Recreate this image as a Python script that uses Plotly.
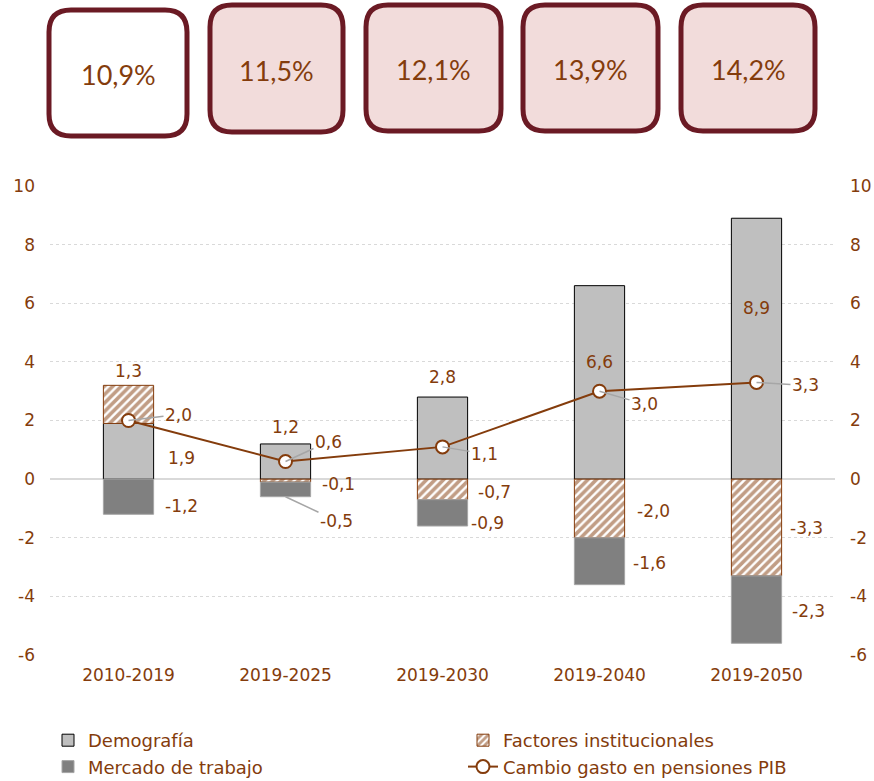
import plotly.graph_objects as go

# ---------------- data ----------------
categories = ["2010-2019", "2019-2025", "2019-2030", "2019-2040", "2019-2050"]
demografia = [1.9, 1.2, 2.8, 6.6, 8.9]
factores = [1.3, -0.1, -0.7, -2.0, -3.3]
mercado = [-1.2, -0.5, -0.9, -1.6, -2.3]
cambio_pib = [2.0, 0.6, 1.1, 3.0, 3.3]
gasto_total = [10.9, 11.5, 12.1, 13.9, 14.2]
y_ticks = [-6, -4, -2, 0, 2, 4, 6, 8, 10]
y_ticktext = ["-6", "-4", "-2", "0", "2", "4", "6", "8", "10"]

# ---------------- style ----------------
BROWN = "#843C0C"
MAROON = "#6B1A24"
GRID = "#D9D9D9"
FONT = "DejaVu Sans"

W, H = 874, 781
L, R, T, B = 50, 39, 186, 126
PW = W - L - R
PH = H - T - B


def fmt(v):
    return f"{v:.1f}".replace(".", ",")


def px2paper(px, py):
    return (px - L) / PW, (H - B - py) / PH


fig = go.Figure()

fig.add_trace(go.Bar(
    name="Demografía", x=categories, y=demografia,
    marker=dict(color="#BFBFBF", line=dict(color="#000000", width=1)),
    width=0.32, hoverinfo="skip"))
fig.add_trace(go.Bar(
    name="Factores institucionales", x=categories, y=factores,
    marker=dict(color="white", line=dict(color=BROWN, width=1),
                pattern=dict(shape="/", fgcolor=BROWN, bgcolor="white",
                             size=6, solidity=0.6)),
    width=0.32, hoverinfo="skip"))
fig.add_trace(go.Bar(
    name="Mercado de trabajo", x=categories, y=mercado,
    marker=dict(color="#808080", line=dict(color="#A6A6A6", width=1)),
    width=0.32, hoverinfo="skip"))
fig.add_trace(go.Scatter(
    name="Cambio gasto en pensiones PIB", x=categories, y=cambio_pib,
    mode="lines+markers",
    line=dict(color=BROWN, width=2),
    marker=dict(symbol="circle", size=13, color="white",
                line=dict(color=BROWN, width=2)),
    hoverinfo="skip"))
# invisible trace so the right axis is drawn
fig.add_trace(go.Scatter(x=categories, y=cambio_pib, yaxis="y2", mode="markers",
                         marker=dict(opacity=0), showlegend=False, hoverinfo="skip"))

annotations = []
# demografia labels (offsets from bar top, pixels)
dem_shift = [(53, -35), (0, 17), (0, 20), (0, -76), (0, -90)]
for c, v, (dx, dy) in zip(categories, demografia, dem_shift):
    annotations.append(dict(x=c, y=v, text=fmt(v), showarrow=False,
                            xshift=dx, yshift=dy))

# factores labels (offset from segment middle)
fac_shift = [(0, 33), (53, -3), (52, -3), (54, -3), (50, -1)]
for i, (c, v) in enumerate(zip(categories, factores)):
    base = demografia[i] if v > 0 else 0
    mid = base + v / 2
    dx, dy = fac_shift[i]
    annotations.append(dict(x=c, y=mid, text=fmt(v), showarrow=False,
                            xshift=dx, yshift=dy))

# mercado labels
mer_shift = [(53, -9), None, (45, -10), (50, -2), (52, -1)]
for i, (c, v) in enumerate(zip(categories, mercado)):
    base = min(factores[i], 0)
    mid = base + v / 2
    if mer_shift[i] is None:
        annotations.append(dict(x=c, y=base + v, text=fmt(v), showarrow=True,
                                arrowhead=0, arrowwidth=1.5, arrowcolor="#A6A6A6",
                                ax=51, ay=24, standoff=0))
    else:
        dx, dy = mer_shift[i]
        annotations.append(dict(x=c, y=mid, text=fmt(v), showarrow=False,
                                xshift=dx, yshift=dy))

# line labels with leader lines
line_off = [(50, -6), (43, -20), (42, 7), (45, 13), (49, 3)]
for c, v, (ax, ay) in zip(categories, cambio_pib, line_off):
    annotations.append(dict(x=c, y=v, text=fmt(v), showarrow=True,
                            arrowhead=0, arrowwidth=1.5, arrowcolor="#A6A6A6",
                            ax=ax, ay=ay, standoff=0))

for a in annotations:
    a.setdefault("font", dict(family=FONT, size=17, color=BROWN))
    a.setdefault("xanchor", "center")
    a.setdefault("yanchor", "middle")

# top boxes
boxes_px = [(49, 187, 10, 136), (210, 343, 5, 132), (366, 501, 5, 131),
            (523, 658, 5, 131), (681, 815, 5, 131)]
fills = ["white", "#F2DCDB", "#F2DCDB", "#F2DCDB", "#F2DCDB"]
shapes = []
r = 22
for (x0, x1, y0, y1), fill, val in zip(boxes_px, fills, gasto_total):
    pts = [("M", x0 + r, y0), ("L", x1 - r, y0), ("Q", x1, y0, x1, y0 + r),
           ("L", x1, y1 - r), ("Q", x1, y1, x1 - r, y1), ("L", x0 + r, y1),
           ("Q", x0, y1, x0, y1 - r), ("L", x0, y0 + r), ("Q", x0, y0, x0 + r, y0)]
    path = ""
    for p in pts:
        cmd = p[0]
        coords = p[1:]
        parts = []
        for k in range(0, len(coords), 2):
            ppx, ppy = px2paper(coords[k], coords[k + 1])
            parts.append(f"{ppx:.5f},{ppy:.5f}")
        path += cmd + " " + " ".join(parts) + " "
    path += "Z"
    shapes.append(dict(type="path", path=path, xref="paper", yref="paper",
                       fillcolor=fill, line=dict(color=MAROON, width=5)))
    cx, cy = px2paper((x0 + x1) / 2, (y0 + y1) / 2 + 2)
    annotations.append(dict(x=cx, y=cy, xref="paper", yref="paper",
                            xanchor="center", yanchor="middle",
                            text=f"{val:.1f}%".replace(".", ","), showarrow=False,
                            font=dict(family="Lato", size=27, color=BROWN)))

yax = dict(range=[-6, 10], tickvals=y_ticks, ticktext=y_ticktext,
           showgrid=True, gridcolor=GRID, griddash="dot", gridwidth=1,
           zeroline=True, zerolinecolor=GRID, zerolinewidth=2,
           showline=False, ticks="", ticklabelstandoff=14,
           tickfont=dict(family=FONT, size=17, color=BROWN), fixedrange=True)

lx, ly = px2paper(48, 722)

fig.update_layout(
    width=W, height=H,
    margin=dict(l=L, r=R, t=T, b=B, autoexpand=False),
    paper_bgcolor="white", plot_bgcolor="white",
    barmode="relative",
    xaxis=dict(showgrid=False, showline=False, ticks="", ticklabelstandoff=8,
               tickfont=dict(family=FONT, size=17, color=BROWN), fixedrange=True),
    yaxis=yax,
    yaxis2=dict(yax, overlaying="y", side="right", showgrid=False, zeroline=False),
    showlegend=True,
    legend=dict(orientation="h", x=lx, xanchor="left", y=ly, yanchor="top",
                entrywidth=370, entrywidthmode="pixels",
                font=dict(family=FONT, size=18, color=BROWN),
                traceorder="normal", itemwidth=30, tracegroupgap=0),
    shapes=shapes,
    annotations=annotations,
)

fig.write_html("out.html", config={"displayModeBar": False},
               post_script="document.body.style.margin='0';document.body.style.padding='0';")
